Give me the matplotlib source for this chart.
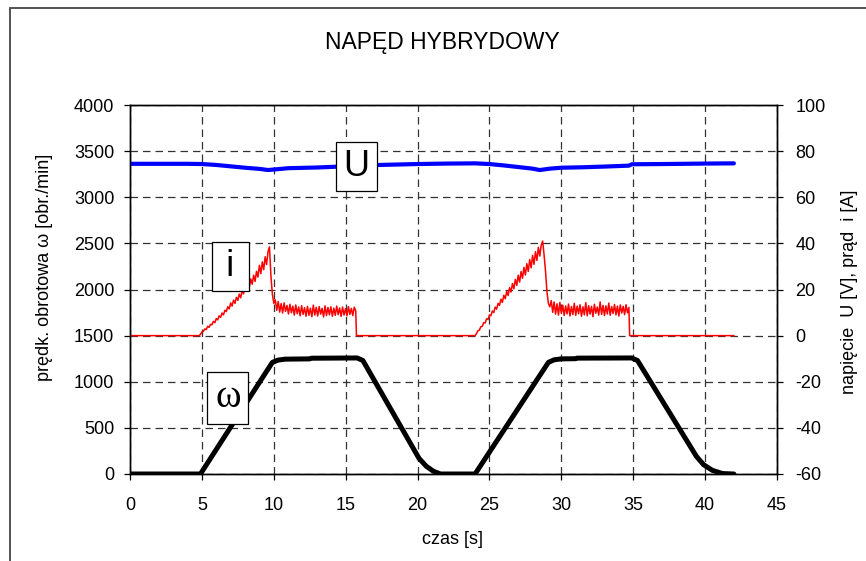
import numpy as np
import matplotlib
matplotlib.use("Agg")
import matplotlib.pyplot as plt
from matplotlib.patches import Rectangle

plt.rcParams['font.family'] = ['Liberation Sans', 'DejaVu Sans']
plt.rcParams['axes.unicode_minus'] = False

# predkosc obrotowa omega [obr./min]
t_w = [0, 4.9, 9.9, 10.3, 10.8, 12.5, 12.6, 15.8, 16.2, 20.1, 20.6, 21.1, 21.6,
       24.0, 29.1, 29.5, 30.0, 31.0, 31.1, 34.9, 35.3, 39.4, 39.9, 40.5, 41.2, 42.0]
w_vals = [0, 0, 1210, 1235, 1245, 1248, 1255, 1258, 1230, 170, 85, 30, 0,
          0, 1210, 1238, 1248, 1250, 1256, 1258, 1230, 190, 100, 40, 5, 0]

# napiecie U [V]
t_u = [0, 2, 4, 5, 6, 7, 8, 9, 9.6, 10.5, 11, 13, 15, 16, 18, 20, 22, 24,
       25, 26, 27, 28, 28.5, 29.2, 30, 31.5, 33, 34.7, 34.9, 37, 40, 42]
u_vals = [74.5, 74.5, 74.5, 74.4, 74.0, 73.4, 72.8, 72.3, 71.8, 72.3, 72.6, 72.9, 73.4,
          73.8, 74.1, 74.4, 74.6, 74.7, 74.4, 73.8, 73.1, 72.4, 71.8, 72.4, 72.8, 73.0,
          73.3, 73.7, 74.3, 74.4, 74.6, 74.7]

# prad i [A] - odcinki z szumem (co 0.1 s)
i_ramp1 = [0, 0.5, 1.6, 1.8, 2.9, 2.6, 4.0, 3.6, 4.9, 4.7, 6.2, 5.6, 7.4, 6.8, 8.6, 7.9,
           9.8, 9.0, 11.0, 10.4, 12.5, 11.6, 14.2, 12.8, 15.4, 14.0, 16.6, 15.3, 18.0,
           16.4, 19.6, 18.1, 22.0, 19.4, 23.1, 21.0, 24.6, 22.3, 26.2, 23.5, 27.9, 25.4,
           30.5, 26.9, 32.0, 28.6, 34.2, 30.8, 36.5, 38.5]
i_flat1 = [26, 18, 14, 15.5, 11.0, 14.8, 10.2, 13.9, 9.8, 14.2, 10.5, 13.1, 9.4, 13.6,
           9.9, 12.8, 8.9, 13.3, 9.5, 12.4, 8.6, 13.0, 9.2, 12.1, 8.4, 12.7, 8.8, 11.9,
           8.2, 13.2, 8.9, 12.3, 8.5, 12.6, 9.3, 11.8, 8.1, 12.9, 8.7, 12.2, 9.0, 12.5,
           8.4, 11.9, 8.8, 12.8, 9.1, 12.0, 8.3, 12.4, 8.9, 11.7, 8.6, 12.6, 9.2, 11.8,
           8.7, 12.3, 10.8]
i_ramp2 = [0, 0.9, 2.1, 2.4, 3.9, 4.0, 5.6, 5.5, 7.3, 7.0, 9.0, 8.6, 10.7, 10.0, 12.4,
           11.5, 14.0, 13.1, 15.8, 14.4, 17.5, 16.0, 19.2, 17.4, 20.8, 18.9, 22.6, 20.3,
           24.4, 21.8, 26.2, 23.2, 27.8, 24.9, 29.6, 26.3, 31.2, 27.8, 33.0, 29.4, 34.8,
           30.9, 36.4, 32.6, 38.3, 34.5, 39.2, 41.0]
i_flat2 = [35, 28, 19, 14, 12.5, 15.2, 10.1, 14.6, 9.3, 13.8, 8.9, 14.4, 9.6, 13.2, 8.7,
           12.9, 9.4, 13.7, 8.5, 12.6, 9.1, 14.0, 8.8, 12.8, 9.5, 13.4, 8.4, 12.5, 9.0,
           14.3, 8.6, 13.0, 9.3, 12.7, 8.2, 13.6, 9.7, 12.4, 8.9, 14.6, 9.2, 13.1, 8.7,
           12.9, 9.4, 14.1, 8.8, 12.6, 9.6, 13.5, 9.0, 12.8, 8.5, 13.3, 9.8, 12.7, 9.1,
           13.4, 9.9, 12.2]

t_i = np.concatenate([[0], np.linspace(4.8, 9.7, len(i_ramp1)),
                      np.linspace(9.8, 15.7, len(i_flat1)), [15.75, 24.0],
                      np.linspace(24.0, 28.7, len(i_ramp2)),
                      np.linspace(28.8, 34.7, len(i_flat2)), [34.75, 42.0]])
i_vals = np.concatenate([[0], i_ramp1, i_flat1, [0, 0], i_ramp2, i_flat2, [0, 0]])

fig = plt.figure(figsize=(8.66, 5.61), dpi=100)
ax = fig.add_axes([130/866, 1 - 474/561, 647/866, 369/561])
ax2 = ax.twinx()

ax.set_axisbelow(True)
ax.grid(True, linestyle=(0, (6, 4)), color='#333333', lw=0.9)
ax.plot(t_w, w_vals, color='black', lw=3.6, solid_joinstyle='round', solid_capstyle='round')
ax2.plot(t_u, u_vals, color='#0000ff', lw=3.0, solid_capstyle='round')
ax2.plot(t_i, i_vals, color='#ff0000', lw=1.1)

ax.set_xlim(0, 45)
ax.set_ylim(0, 4000)
ax.set_xticks(range(0, 46, 5))
ax.set_yticks(range(0, 4001, 500))
ax2.set_ylim(-60, 100)
ax2.set_yticks(range(-60, 101, 20))

for a in (ax, ax2):
    a.tick_params(labelsize=13, length=4.3, width=0.9, direction='out', colors='black')
    for s in a.spines.values():
        s.set_linewidth(1.0)
ax.tick_params(axis='y', pad=7)
ax.tick_params(axis='x', pad=12)
ax2.tick_params(axis='y', pad=9)

fig.text(442.5/866, 1 - 42/561, 'NAPĘD HYBRYDOWY', fontsize=16.5, ha='center', va='center')
ax.set_xlabel('czas [s]', fontsize=13, va='center')
ax.xaxis.set_label_coords((453 - 130) / 647, (474 - 539) / 369)
ax.set_ylabel('prędk. obrotowa ω [obr./min]', fontsize=13, va='center')
ax.yaxis.set_label_coords((45 - 130) / 647, (474 - 267) / 369)
ax2.set_ylabel('napięcie  U [V], prąd  i [A]', fontsize=13, va='center')
ax2.yaxis.set_label_coords((850 - 130) / 647, (474 - 292) / 369)

box = dict(boxstyle='square,pad=0.2', fc='white', ec='black', lw=0.9)
ax2.text(15.75, 73.3, 'U', fontsize=26, ha='center', va='center', bbox=box, zorder=5)
ax2.text(7.0, 30, '\u2009i\u2009', fontsize=26, ha='center', va='center', bbox=box, zorder=5)
ax2.text(6.8, -27, 'ω', fontsize=28, ha='center', va='center', bbox=box, zorder=5,
         family='Liberation Serif')

fig.patches.append(Rectangle((10/866, -0.05), 1.1, 1.05 - 8/561, fill=False,
                             ec='#444444', lw=1.3, transform=fig.transFigure))

fig.savefig('out.png', dpi=100)
